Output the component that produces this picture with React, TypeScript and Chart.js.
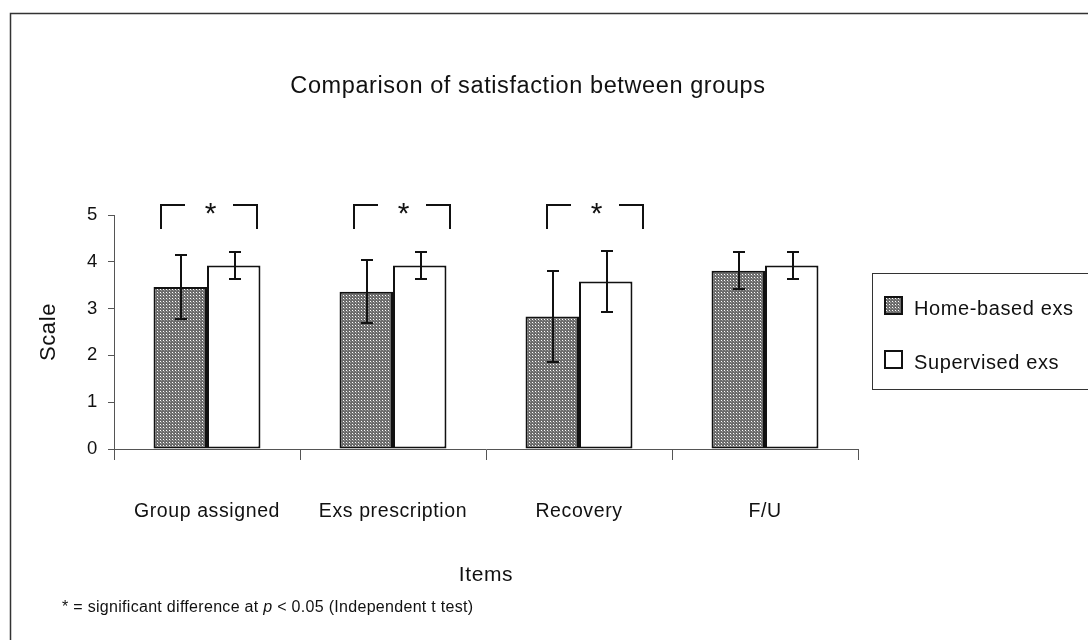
import React, { useEffect, useRef } from 'react';
import { Chart, registerables } from 'chart.js';

Chart.register(...registerables);

// ---------- data ----------
const CATEGORIES = ['Group assigned', 'Exs prescription', 'Recovery', 'F/U'];
const SERIES_NAMES = ['Home-based exs', 'Supervised exs'];
const HOME_MEAN = [3.46, 3.36, 2.83, 3.81];
const HOME_SD = [0.68, 0.67, 0.98, 0.4];
const SUPERVISED_MEAN = [3.92, 3.92, 3.58, 3.92];
const SUPERVISED_SD = [0.28, 0.28, 0.66, 0.28];
const SIGNIFICANT = [true, true, true, false];
const Y_MIN = 0;
const Y_MAX = 5;
const Y_STEP = 1;
const TITLE = 'Comparison of satisfaction between groups';
const X_TITLE = 'Items';
const Y_TITLE = 'Scale';
const FOOTNOTE_PARTS = ['* = significant difference at ', 'p', ' < 0.05 (Independent t test)'];
const SIG_MARK = '*';
const BRACKET_TOP = 5.22;
const BRACKET_BOTTOM = 4.7;

// ---------- style ----------
const FONT = '"Liberation Sans", Arial, Helvetica, sans-serif';
const INK = '#111111';
const AXIS = '#555555';
const LS = '0.6px';

function makePattern(): CanvasPattern | string {
  const c = document.createElement('canvas');
  c.width = 3;
  c.height = 3;
  const g = c.getContext('2d');
  if (!g) return '#808080';
  g.fillStyle = '#6c6c6c';
  g.fillRect(0, 0, 3, 3);
  g.fillStyle = '#ffffff';
  g.fillRect(1, 1, 1, 1);
  g.fillStyle = '#9a9a9a';
  g.fillRect(2, 2, 1, 1);
  const p = g.createPattern(c, 'repeat');
  return p || '#808080';
}

const ERRORS = [HOME_SD, SUPERVISED_SD];

const decorPlugin = {
  id: 'decor',
  beforeUpdate(chart: any) {
    (chart.ctx as any).letterSpacing = LS;
  },
  beforeDraw(chart: any) {
    const ctx = chart.ctx;
    (ctx as any).letterSpacing = LS;
    ctx.save();
    ctx.fillStyle = '#ffffff';
    ctx.fillRect(0, 0, chart.width, chart.height);
    // outer frame
    ctx.strokeStyle = '#333333';
    ctx.lineWidth = 1.5;
    ctx.strokeRect(10.5, 13.5, chart.width + 50, chart.height + 50);
    ctx.restore();
  },
  afterDatasetsDraw(chart: any) {
    const ctx = chart.ctx;
    const y = chart.scales.y;
    chart.data.datasets.forEach((ds: any, di: number) => {
      const meta = chart.getDatasetMeta(di);
      meta.data.forEach((bar: any, i: number) => {
        const m = ds.data[i];
        const s = ERRORS[di][i];
        const top = Math.round(y.getPixelForValue(m + s));
        const bot = Math.round(y.getPixelForValue(m - s));
        const x = Math.round(bar.x) + 1;
        ctx.save();
        ctx.strokeStyle = INK;
        ctx.lineWidth = 2;
        ctx.beginPath();
        ctx.moveTo(x, top);
        ctx.lineTo(x, bot);
        ctx.moveTo(x - 6, top);
        ctx.lineTo(x + 6, top);
        ctx.moveTo(x - 6, bot);
        ctx.lineTo(x + 6, bot);
        ctx.stroke();
        ctx.restore();
      });
    });
  },
  afterDraw(chart: any) {
    const ctx = chart.ctx;
    const xs = chart.scales.x;
    const ys = chart.scales.y;
    ctx.save();
    (ctx as any).letterSpacing = LS;
    ctx.fillStyle = INK;
    // title
    ctx.font = `23.5px ${FONT}`;
    ctx.textAlign = 'center';
    ctx.textBaseline = 'middle';
    ctx.fillText(TITLE, 528, 87);

    // significance brackets
    const shifts = [2, 9, 16];
    ctx.strokeStyle = INK;
    ctx.lineWidth = 2;
    SIGNIFICANT.forEach((sig, i) => {
      if (!sig) return;
      const cx = Math.round(xs.getPixelForValue(i)) + shifts[i];
      const yt = Math.round(ys.getPixelForValue(BRACKET_TOP));
      const yb = Math.round(ys.getPixelForValue(BRACKET_BOTTOM));
      ctx.beginPath();
      ctx.moveTo(cx - 48, yb);
      ctx.lineTo(cx - 48, yt);
      ctx.lineTo(cx - 24, yt);
      ctx.moveTo(cx + 24, yt);
      ctx.lineTo(cx + 48, yt);
      ctx.lineTo(cx + 48, yb);
      ctx.stroke();
      ctx.font = `30px ${FONT}`;
      ctx.textAlign = 'center';
      ctx.textBaseline = 'alphabetic';
      ctx.fillText(SIG_MARK, cx + 2, yt + 18);
    });

    // legend
    const lx = 872;
    const ly = 273;
    ctx.lineWidth = 1;
    ctx.strokeStyle = '#333333';
    ctx.strokeRect(lx + 0.5, ly + 0.5, 300, 116);
    const rows = [308, 362];
    chart.data.datasets.forEach((ds: any, di: number) => {
      const cy = rows[di];
      ctx.fillStyle = ds.backgroundColor;
      ctx.fillRect(884, cy - 12, 19, 19);
      ctx.lineWidth = 2;
      ctx.strokeStyle = INK;
      ctx.strokeRect(885, cy - 11, 17, 17);
      ctx.fillStyle = INK;
      ctx.font = `20px ${FONT}`;
      ctx.textAlign = 'left';
      ctx.textBaseline = 'middle';
      ctx.fillText(ds.label, 914, cy + 1);
    });

    // footnote
    (ctx as any).letterSpacing = '0.3px';
    ctx.textAlign = 'left';
    ctx.textBaseline = 'middle';
    let fx = 62;
    const fy = 608;
    FOOTNOTE_PARTS.forEach((part, k) => {
      ctx.font = k === 1 ? `italic 16px ${FONT}` : `16px ${FONT}`;
      ctx.fillText(part, fx, fy);
      fx += ctx.measureText(part).width;
    });
    ctx.restore();
    (ctx as any).letterSpacing = LS;
  },
};

export default function App() {
  const ref = useRef<HTMLCanvasElement | null>(null);

  useEffect(() => {
    if (!ref.current) return;
    const pattern = makePattern();
    const chart = new Chart(ref.current, {
      type: 'bar',
      data: {
        labels: CATEGORIES,
        datasets: [
          {
            label: SERIES_NAMES[0],
            data: HOME_MEAN,
            backgroundColor: pattern as any,
            borderColor: INK,
            borderWidth: 2,
            borderSkipped: false,
            categoryPercentage: 0.575,
            barPercentage: 1.0,
          },
          {
            label: SERIES_NAMES[1],
            data: SUPERVISED_MEAN,
            backgroundColor: '#ffffff',
            borderColor: INK,
            borderWidth: 2,
            borderSkipped: false,
            categoryPercentage: 0.575,
            barPercentage: 1.0,
          },
        ],
      },
      options: {
        responsive: false,
        animation: false,
        devicePixelRatio: 1,
        layout: { padding: { left: 0, top: 215, right: 230, bottom: 0 } },
        plugins: {
          legend: { display: false },
          title: { display: false },
          tooltip: { enabled: false },
        },
        scales: {
          x: {
            type: 'category',
            grid: {
              offset: true,
              drawOnChartArea: false,
              drawTicks: true,
              tickLength: 11,
              color: AXIS,
              lineWidth: 1,
            },
            border: { display: true, color: AXIS, width: 1 },
            ticks: {
              color: INK,
              font: { family: FONT, size: 19.5 },
              padding: 40,
              maxRotation: 0,
              autoSkip: false,
            },
            title: {
              display: true,
              text: X_TITLE,
              color: INK,
              font: { family: FONT, size: 21 },
              padding: { top: 0, bottom: 52 },
            },
            afterFit: (s: any) => {
              s.height = 191;
            },
          },
          y: {
            min: Y_MIN,
            max: Y_MAX,
            grid: {
              drawOnChartArea: false,
              drawTicks: true,
              tickLength: 6,
              color: AXIS,
              lineWidth: 1,
            },
            border: { display: true, color: AXIS, width: 1 },
            ticks: {
              stepSize: Y_STEP,
              color: INK,
              font: { family: FONT, size: 18.5 },
              padding: 10,
            },
            title: {
              display: true,
              text: Y_TITLE,
              color: INK,
              font: { family: FONT, size: 22 },
              padding: { top: 36, bottom: 0 },
            },
            afterFit: (s: any) => {
              s.width = 114;
            },
          },
        },
      },
      plugins: [decorPlugin],
    });
    return () => chart.destroy();
  }, []);

  return (
    <div style={{ position: 'absolute', left: 0, top: 0, width: 1088, height: 640 }}>
      <canvas ref={ref} width={1088} height={640} style={{ display: 'block' }} />
    </div>
  );
}
